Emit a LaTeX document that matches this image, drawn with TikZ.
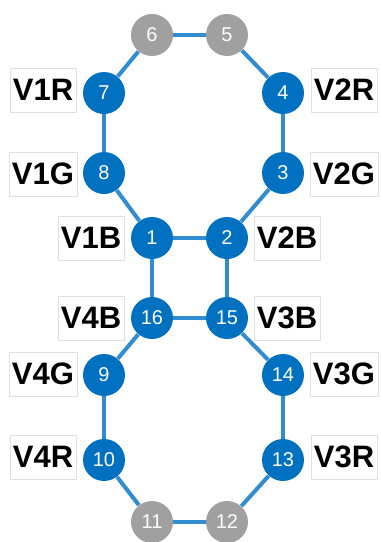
\documentclass[tikz,border=0pt]{standalone}
\usepackage{fontspec}
\setmainfont{Liberation Sans}
\usepackage{xcolor}
\definecolor{nodeblue}{RGB}{0,112,192}
\definecolor{edgeblue}{RGB}{50,140,210}
\definecolor{nodegray}{RGB}{160,160,160}

\begin{document}
\begin{tikzpicture}[x=0.5pt,y=-0.5pt]
\tikzstyle{vertex}=[circle,fill=nodeblue,text=white,inner sep=0pt,minimum size=21pt,font=\fontsize{10}{10}\selectfont]
\tikzstyle{spare}=[vertex,fill=nodegray]
\tikzstyle{tag}=[draw=black!12,line width=0.3pt,fill=white,inner xsep=1.5pt,minimum height=22pt,font=\fontsize{15.5}{15.5}\selectfont\bfseries]
\tikzstyle{link}=[edgeblue,line width=2pt]
\useasboundingbox (0,0) rectangle (381,542);

% upper ring
\node[spare](v6) at (152,35){6};
\node[spare](v5) at (227,35){5};
\node[vertex](v7) at (104,93){7};
\node[vertex](v4) at (283,93){4};
\node[vertex](v8) at (104,173){8};
\node[vertex](v3) at (283,173){3};
\node[vertex](v1) at (152,238){1};
\node[vertex](v2) at (227,238){2};
% lower ring
\node[vertex](v16) at (152,318){16};
\node[vertex](v15) at (227,318){15};
\node[vertex](v9) at (104,375){9};
\node[vertex](v14) at (283,375){14};
\node[vertex](v10) at (104,460){10};
\node[vertex](v13) at (283,460){13};
\node[spare](v11) at (152,522){11};
\node[spare](v12) at (227,522){12};

% channel tags
\node[tag](t1r) at (43,90){V1R};
\node[tag](t1g) at (43,174){V1G};
\node[tag](t1b) at (91,238){V1B};
\node[tag](t2r) at (344,90){V2R};
\node[tag](t2g) at (344,174){V2G};
\node[tag](t2b) at (287,238){V2B};
\node[tag](t4b) at (91,318){V4B};
\node[tag](t4g) at (43,374){V4G};
\node[tag](t4r) at (43,457){V4R};
\node[tag](t3b) at (287,318){V3B};
\node[tag](t3g) at (344,374){V3G};
\node[tag](t3r) at (344,457){V3R};

\draw [link] (v6) to (v5);
\draw [link] (v5) to (v4);
\draw [link] (v4) to (v3);
\draw [link] (v3) to (v2);
\draw [link] (v2) to (v1);
\draw [link] (v1) to (v8);
\draw [link] (v8) to (v7);
\draw [link] (v7) to (v6);
\draw [link] (v1) to (v16);
\draw [link] (v2) to (v15);
\draw [link] (v16) to (v15);
\draw [link] (v16) to (v9);
\draw [link] (v9) to (v10);
\draw [link] (v10) to (v11);
\draw [link] (v11) to (v12);
\draw [link] (v12) to (v13);
\draw [link] (v13) to (v14);
\draw [link] (v14) to (v15);
\end{tikzpicture}
\end{document}
